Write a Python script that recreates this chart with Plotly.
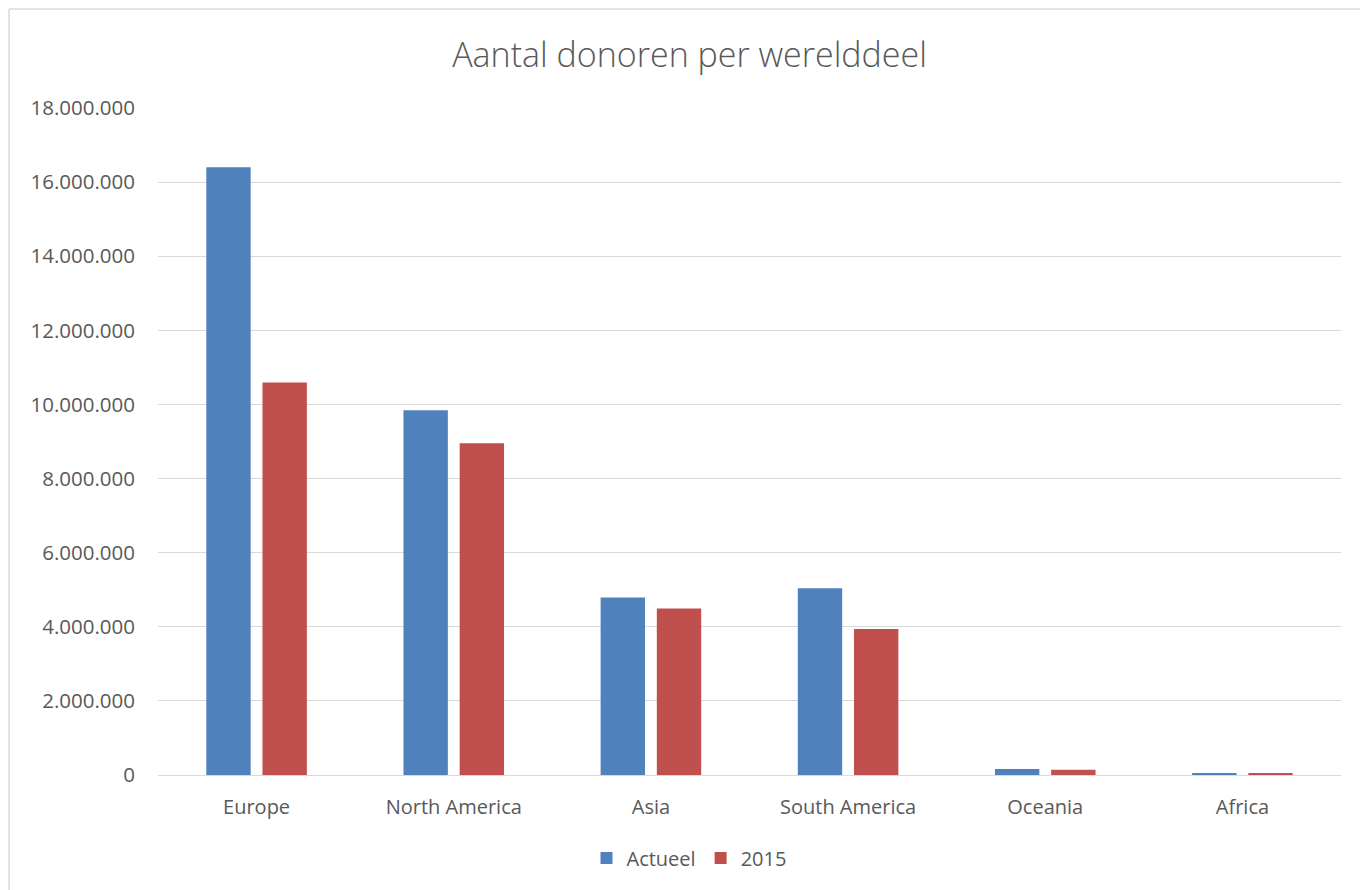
import plotly.graph_objects as go

# Donor counts per continent
continents = ["Europe", "North America", "Asia", "South America", "Oceania", "Africa"]
actueel = [16400000, 9840000, 4790000, 5040000, 160000, 55000]
donors_2015 = [10590000, 8950000, 4490000, 3940000, 145000, 55000]
y_ticks = [0, 2000000, 4000000, 6000000, 8000000, 10000000, 12000000, 14000000, 16000000, 18000000]

font_family = "Open Sans"
text_color = "#595959"

fig = go.Figure()
fig.add_trace(go.Bar(name="Actueel", x=continents, y=actueel,
                     marker=dict(color="#4F81BD", line=dict(width=0))))
fig.add_trace(go.Bar(name="2015", x=continents, y=donors_2015,
                     marker=dict(color="#C0504D", line=dict(width=0))))

W, H = 1360, 890
ml, mr, mt, mb = 158, 19, 108, 115
pw, ph = W - ml - mr, H - mt - mb

fig.update_layout(
    width=W, height=H,
    margin=dict(l=ml, r=mr, t=mt, b=mb, pad=0, autoexpand=False),
    paper_bgcolor="white", plot_bgcolor="white",
    separators=",.",
    barmode="group", bargap=0.43, bargroupgap=0.21,
    font=dict(family=font_family, color=text_color, size=20),
    title=dict(text="Aantal donoren per werelddeel", x=689.5 / W, xanchor="center",
               y=1 - 55 / H, yanchor="middle",
               font=dict(family=font_family, size=34, color=text_color, weight=300)),
    xaxis=dict(showgrid=False, showline=False, ticks="", tickfont=dict(size=20),
               ticklabelstandoff=18, tickangle=0),
    yaxis=dict(range=[0, 18000000], tickvals=y_ticks, tickformat=",d",
               showgrid=True, gridcolor="#D9D9D9", gridwidth=1,
               zeroline=True, zerolinecolor="#D9D9D9", zerolinewidth=1,
               showline=False, ticks="", tickfont=dict(size=20.5),
               ticklabelstandoff=22),
    legend=dict(orientation="h", xref="paper", x=(689 - ml) / pw, xanchor="center",
                y=-(858 - mt - ph) / ph, yanchor="middle",
                font=dict(size=20), itemwidth=30, traceorder="normal"),
    shapes=[
        dict(type="line", xref="paper", yref="paper",
             x0=(9 - ml) / pw, x1=(9 - ml) / pw, y0=1 + (mt - 9) / ph, y1=-(mb + 5) / ph,
             line=dict(color="#D9D9D9", width=1.5)),
        dict(type="line", xref="paper", yref="paper",
             x0=(9 - ml) / pw, x1=1 + (mr + 5) / pw, y0=1 + (mt - 9) / ph, y1=1 + (mt - 9) / ph,
             line=dict(color="#D9D9D9", width=1.5)),
    ],
)

fig.write_html("out.html")
